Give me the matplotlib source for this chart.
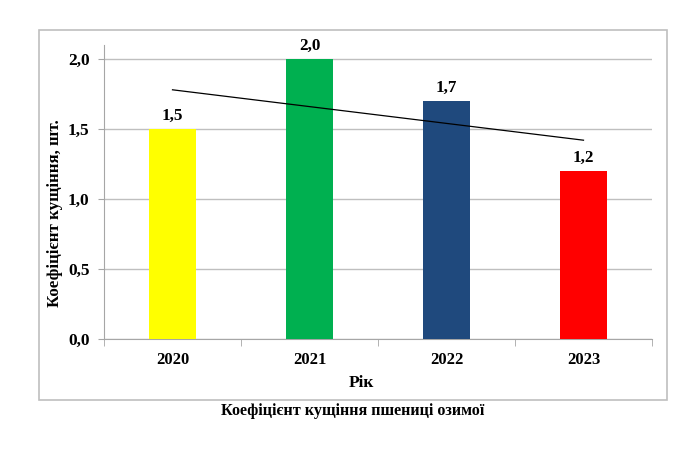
import numpy as np
import matplotlib
matplotlib.use('Agg')
import matplotlib.pyplot as plt
from matplotlib.patches import Rectangle

YEARS = ['2020', '2021', '2022', '2023']
VALUES = [1.5, 2.0, 1.7, 1.2]
COLORS = ['#FFFF00', '#00B050', '#1F497D', '#FF0000']
Y_TICKS = [0.0, 0.5, 1.0, 1.5, 2.0]

plt.rcParams['font.family'] = ['Liberation Serif', 'DejaVu Serif']
plt.rcParams['font.weight'] = 'bold'

W, H = 700, 467
fig = plt.figure(figsize=(W / 100, H / 100), dpi=100)

# chart frame
fig.patches.append(Rectangle((39 / W, 1 - 400 / H), (667 - 39) / W, (400 - 30) / H,
                             transform=fig.transFigure, fill=False,
                             edgecolor='#BFBFBF', linewidth=1.2))

ax = fig.add_axes([104 / W, 1 - 339 / H, (652 - 104) / W, (339 - 45) / H])
x = np.arange(len(YEARS))
ax.bar(x, VALUES, width=0.34, color=COLORS, zorder=3)

for xi, v in zip(x, VALUES):
    ax.text(xi, v + 0.04, ('%.1f' % v).replace('.', ','), ha='center', va='bottom',
            fontsize=12.3, fontweight='bold')

# linear trend
k, b = np.polyfit(x, VALUES, 1)
ax.plot(x, k * x + b, color='black', linewidth=0.9, zorder=4)

ax.set_xlim(-0.5, len(YEARS) - 0.5)
ax.set_ylim(0, 2.1)
ax.set_yticks(Y_TICKS)
ax.set_yticklabels([('%.1f' % t).replace('.', ',') for t in Y_TICKS], fontsize=12.5, fontweight='bold')
ax.set_xticks(x)
ax.set_xticklabels(YEARS, fontsize=12, fontweight='bold')
ax.set_xticks(np.arange(-0.5, len(YEARS)), minor=True)
ax.tick_params(axis='x', which='major', length=0, pad=9)
ax.tick_params(axis='x', which='minor', length=5, color='#A6A6A6', direction='out')
ax.tick_params(axis='y', length=4.5, color='#A6A6A6', pad=6)
ax.yaxis.grid(True, color='#BFBFBF', linewidth=1, zorder=0)
ax.set_axisbelow(True)

for s in ['top', 'right']:
    ax.spines[s].set_visible(False)
ax.spines['left'].set_color('#A6A6A6')
ax.spines['bottom'].set_color('#A6A6A6')

fig.text(55 / W, 1 - 213 / H, 'Коефіцієнт кущіння, шт.', rotation=90, ha='center', va='center',
         fontsize=12.2, fontweight='bold')
fig.text(361 / W, 1 - 383 / H, 'Рік', ha='center', va='center', fontsize=12.5, fontweight='bold')
fig.text(353 / W, 1 - 411 / H, 'Коефіцієнт кущіння пшениці озимої', ha='center', va='center',
         fontsize=11.6, fontweight='bold')

fig.savefig('out.png', dpi=100, facecolor='white')
